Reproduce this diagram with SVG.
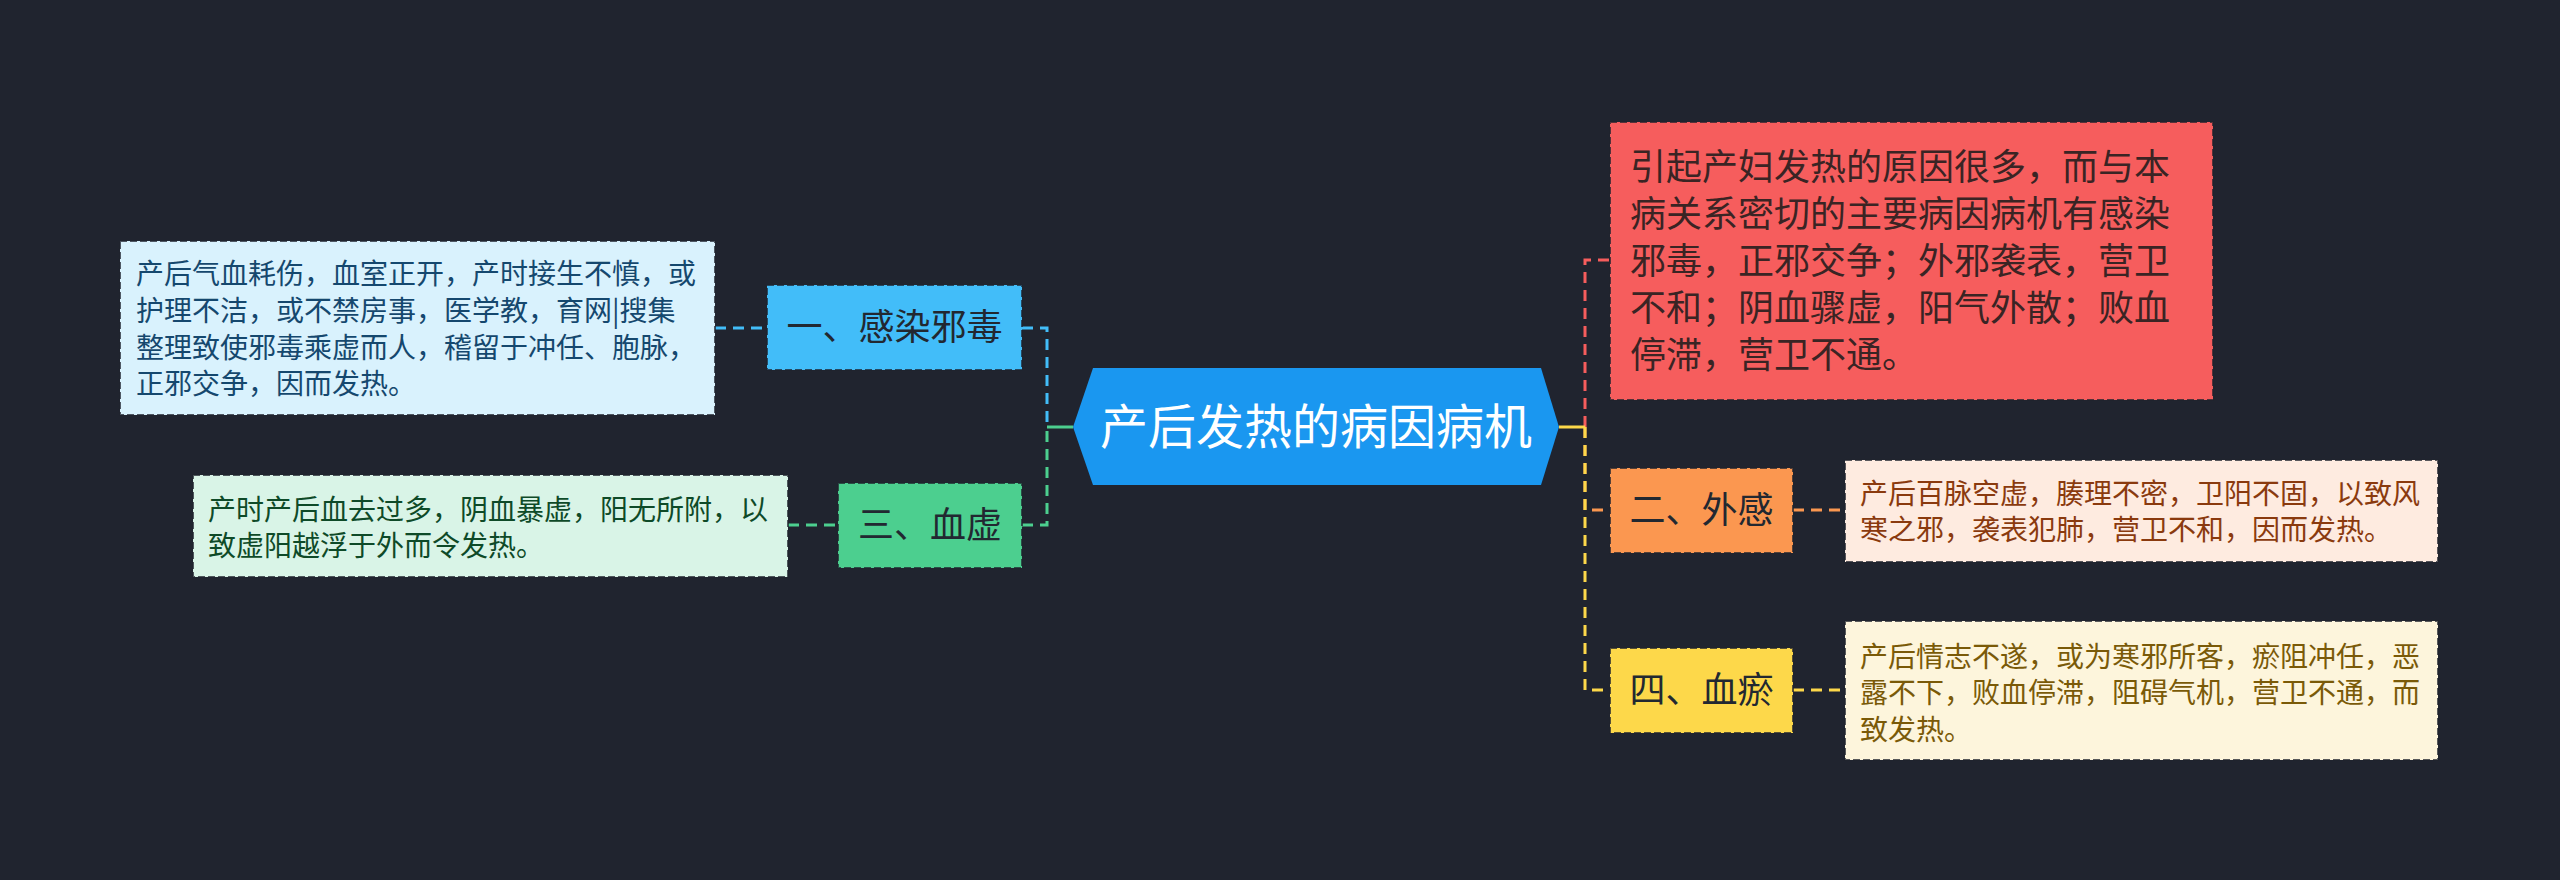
<svg xmlns="http://www.w3.org/2000/svg" width="2560" height="880" viewBox="0 0 2560 880">
<style>
text{font-family:"Noto Sans CJK SC","Noto Sans",sans-serif;}
.leaf{font-size:28px;}
.branch{font-size:36px;fill:#222831;text-anchor:middle;}
.box{stroke:#1f232e;stroke-opacity:0.75;stroke-width:2;stroke-dasharray:7 3;}
.con{fill:none;stroke-width:3;stroke-dasharray:11 7;}
</style>
<rect width="2560" height="880" fill="#20242f"/>
<g id="connectors">
<path class="con" d="M715 328 H767" stroke="#42bdf9"/>
<path class="con" d="M1022 328 H1047 V427" stroke="#42bdf9"/>
<path class="con" d="M788 525 H838" stroke="#4ccf8f"/>
<path class="con" d="M1022 525 H1047 V427" stroke="#4ccf8f"/>
<path d="M1047 427 H1073" fill="none" stroke="#4ccf8f" stroke-width="3"/>
<path class="con" d="M1585 427 V260 H1610" stroke="#f65d5d"/>
<path class="con" d="M1585 427 V510 H1610" stroke="#fb9750"/>
<path class="con" d="M1793 510 H1845" stroke="#fb9750"/>
<path class="con" d="M1585 427 V690 H1610" stroke="#fdd84a"/>
<path class="con" d="M1793 690 H1845" stroke="#fdd84a"/>
<path d="M1559 427 H1585" fill="none" stroke="#fdd84a" stroke-width="3"/>
</g>
<g id="center">
<polygon points="1073,427 1093,368 1541,368 1559,427 1541,485 1093,485" fill="#1a97f0"/>
<text x="1316" y="444" font-size="48" fill="#ffffff" text-anchor="middle">产后发热的病因病机</text>
</g>
<g id="b1">
<rect class="box" x="767" y="285" width="255" height="85" fill="#42bdf9"/>
<text class="branch" x="894.5" y="340">一、感染邪毒</text>
</g>
<g id="leaf1">
<rect class="box" x="120" y="241" width="595" height="174" fill="#d9f2fd"/>
<g class="leaf" fill="#15486e">
<text x="136" y="284">产后气血耗伤，血室正开，产时接生不慎，或</text>
<text x="136" y="321">护理不洁，或不禁房事，医学教，育网|搜集</text>
<text x="136" y="358">整理致使邪毒乘虚而人，稽留于冲任、胞脉，</text>
<text x="136" y="394">正邪交争，因而发热。</text>
</g>
</g>
<g id="b3">
<rect class="box" x="838" y="483" width="184" height="85" fill="#4ccf8f"/>
<text class="branch" x="930" y="538">三、血虚</text>
</g>
<g id="leaf3">
<rect class="box" x="193" y="475" width="595" height="102" fill="#d9f4e7"/>
<g class="leaf" fill="#0e4a28">
<text x="208" y="520">产时产后血去过多，阴血暴虚，阳无所附，以</text>
<text x="208" y="556">致虚阳越浮于外而令发热。</text>
</g>
</g>
<g id="b0">
<rect class="box" x="1610" y="122" width="603" height="278" fill="#f65d5d"/>
<g font-size="36" fill="#3a2424">
<text x="1630" y="180">引起产妇发热的原因很多，而与本</text>
<text x="1630" y="227">病关系密切的主要病因病机有感染</text>
<text x="1630" y="274">邪毒，正邪交争；外邪袭表，营卫</text>
<text x="1630" y="321">不和；阴血骤虚，阳气外散；败血</text>
<text x="1630" y="368">停滞，营卫不通。</text>
</g>
</g>
<g id="b2">
<rect class="box" x="1610" y="468" width="183" height="85" fill="#fb9750"/>
<text class="branch" x="1701.5" y="523">二、外感</text>
</g>
<g id="leaf2">
<rect class="box" x="1845" y="460" width="593" height="102" fill="#feebe0"/>
<g class="leaf" fill="#8a3a0e">
<text x="1860" y="504">产后百脉空虚，腠理不密，卫阳不固，以致风</text>
<text x="1860" y="540">寒之邪，袭表犯肺，营卫不和，因而发热。</text>
</g>
</g>
<g id="b4">
<rect class="box" x="1610" y="648" width="183" height="85" fill="#fdd84a"/>
<text class="branch" x="1701.5" y="703">四、血瘀</text>
</g>
<g id="leaf4">
<rect class="box" x="1845" y="621" width="593" height="139" fill="#fdf5dc"/>
<g class="leaf" fill="#7a5a08">
<text x="1860" y="667">产后情志不遂，或为寒邪所客，瘀阻冲任，恶</text>
<text x="1860" y="703">露不下，败血停滞，阻碍气机，营卫不通，而</text>
<text x="1860" y="740">致发热。</text>
</g>
</g>
</svg>
